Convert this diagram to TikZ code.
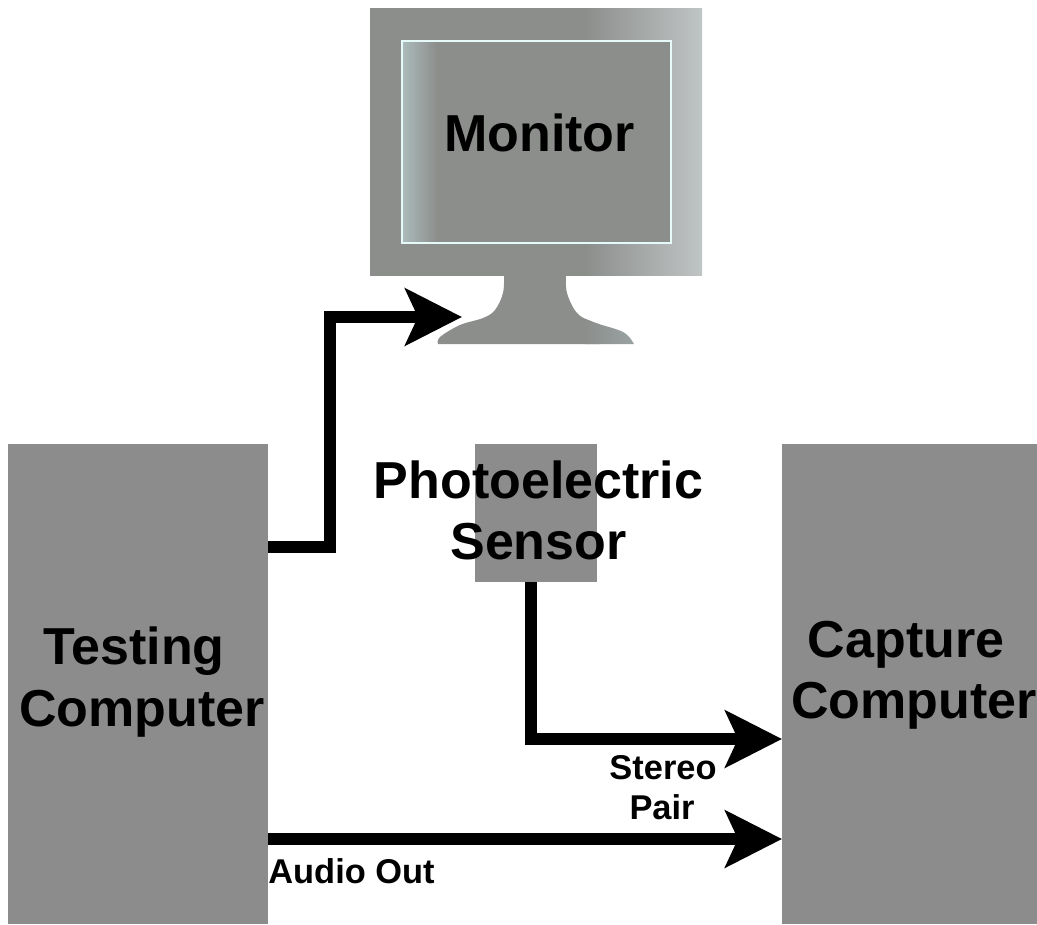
\documentclass[tikz,border=0pt]{standalone}
\usepackage{fontspec}
\setmainfont{Liberation Sans}
\usetikzlibrary{arrows.meta}
\definecolor{boxgray}{HTML}{8C8C8C}
\definecolor{mongray}{HTML}{8C8E8C}
\definecolor{monlight}{HTML}{BFC4C4}
\definecolor{scrlight}{HTML}{ABBABA}
\definecolor{baselight}{HTML}{9BA6A6}
\definecolor{edgecyan}{HTML}{E6FAFA}
\tikzset{
  unit box/.style={draw=none,fill=boxgray,inner sep=0pt,outer sep=0pt,minimum width=#1},
  biglabel/.style={font=\fontsize{39}{39}\selectfont\bfseries,text=black,inner sep=0pt,anchor=base},
  smalllabel/.style={font=\fontsize{25.8}{25.8}\selectfont\bfseries,text=black,inner sep=0pt,anchor=base},
  link/.style={draw=black,line width=9.2pt,miter limit=10,
    -{Stealth[length=42.5pt,width=42.5pt,inset=9.5pt]}},
}
\begin{document}
\begin{tikzpicture}[x=0.75pt,y=-0.75pt]
\useasboundingbox (0,0) rectangle (1037,924);
% monitor frame
\begin{scope}
\clip (370,9) rectangle (702,275);
\fill[mongray] (370,0) rectangle (600,285);
\shade[left color=mongray,right color=monlight] (585,0) rectangle (702,285);
\end{scope}
% base
\begin{scope}
\clip plot[smooth,tension=0.6] coordinates {(504,274) (503,293) (495,310) (483,318) (460,325) (440,337) (438,344)}
  -- plot[smooth,tension=0.6] coordinates {(634,344) (623,332) (593,322) (577,313) (567,293) (566,274)} -- cycle;
\fill[mongray] (430,270) rectangle (600,350);
\shade[left color=mongray,right color=baselight] (585,270) rectangle (640,350);
\end{scope}
% screen
\node[minimum width=201.75pt,minimum height=151.5pt,inner sep=0pt,outer sep=0pt,fill=mongray,draw=none] (screen) at (536.5,142) {};
\shade[left color=scrlight,right color=mongray] (403,42) rectangle (437,242);
\draw[edgecyan,line width=1.5pt] (screen.north west) rectangle (screen.south east);
\node[biglabel] (monitor) at (539.5,151) {Monitor};
% boxes
\node[unit box=195pt,minimum height=360pt] (testing) at (138,684) {};
\node[unit box=191.25pt,minimum height=360pt] (capture) at (909.5,684) {};
\node[unit box=91.5pt,minimum height=103.5pt] (sensor) at (536,513) {};
% labels
\node[biglabel] (photo) at (538.5,498) {Photoelectric};
\node[biglabel] (sensorlabel) at (538.5,559) {Sensor};
\node[biglabel] (testlabel) at (134,664) {Testing};
\node[biglabel] (complabel) at (142,726) {Computer};
\node[biglabel] (caplabel) at (906,657) {Capture};
\node[biglabel] (comprlabel) at (914,718) {Computer};
\node[smalllabel] (stereo) at (663,779) {Stereo};
\node[smalllabel] (pair) at (662,819) {Pair};
\node[smalllabel] (audio) at (351.5,883) {Audio Out};
% connectors
\coordinate (mtip) at (462,317);
\coordinate (tout) at (testing.east |- 0,547);
\coordinate (sout) at (531,582);
\coordinate (stip) at (capture.west |- 0,739);
\coordinate (aout) at (testing.east |- 0,839);
\coordinate (atip) at (capture.west |- 0,839);
\draw[link] (tout) -| (330,317) -- (mtip);
\draw[link] (sout) |- (stip);
\draw[link] (aout) -- (atip);
\end{tikzpicture}
\end{document}
